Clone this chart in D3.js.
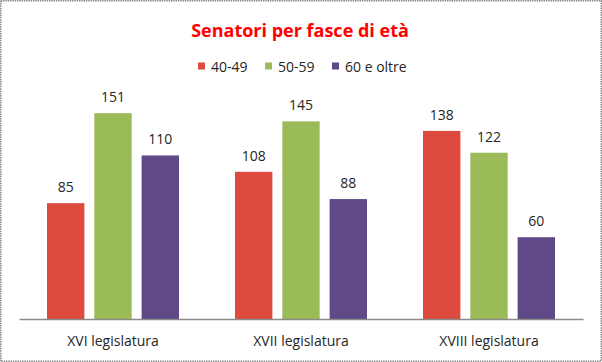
<!DOCTYPE html>
<html>
<head>
<meta charset="utf-8">
<script src="https://cdn.jsdelivr.net/npm/d3@7"></script>
<style>
  body { margin: 0; background: #fff; }
  svg { display: block; }
</style>
</head>
<body>
<div id="chart"></div>
<script>
// Dati
var categorie = ["XVI legislatura", "XVII legislatura", "XVIII legislatura"];
var serie = ["40-49", "50-59", "60 e oltre"];
// altezze delle barre come si leggono dal grafico
var valori4049 = [85, 108, 138];
var valori5059 = [151, 145, 122];
var valori60 = [120, 88, 60];   // la prima barra è alta ~120 anche se l'etichetta dice 110
// etichette dei dati come sono scritte
var etichette4049 = ["85", "108", "138"];
var etichette5059 = ["151", "145", "122"];
var etichette60 = ["110", "88", "60"];
var colori = ["#de4a3e", "#9bbb59", "#5f4a87"];

var valori = [valori4049, valori5059, valori60];
var etichette = [etichette4049, etichette5059, etichette60];

var width = 602, height = 362;
var margin = { top: 100, right: 19, bottom: 43, left: 19 };
var font = "'Open Sans', sans-serif";

var svg = d3.select("#chart").append("svg")
    .attr("width", width)
    .attr("height", height);

// Bordo
svg.append("rect")
    .attr("x", 0.75).attr("y", 0.75)
    .attr("width", width - 1.5).attr("height", height - 1.5)
    .attr("fill", "white")
    .attr("stroke", "#8a8a8a")
    .attr("stroke-width", 1.5)
    .attr("stroke-dasharray", "1.5,0.8");

// Titolo
svg.append("text")
    .text("Senatori per fasce di età")
    .attr("x", 300).attr("y", 37)
    .attr("fill", "#ff0000")
    .attr("font-family", font)
    .attr("font-weight", "bold")
    .attr("font-size", 18)
    .attr("text-anchor", "middle");

// Scale
var x0 = d3.scaleBand()
    .domain(categorie)
    .range([margin.left, width - margin.right])
    .paddingInner(0)
    .paddingOuter(0);

var x1 = d3.scaleBand()
    .domain(serie)
    .range([28, x0.bandwidth() - 28])
    .paddingInner(0.21)
    .paddingOuter(0);

var y = d3.scaleLinear()
    .domain([0, 160])
    .range([height - margin.bottom, height - margin.bottom - 160 * 1.363]);

// Legenda
var legenda = svg.append("g").attr("font-family", font).attr("font-size", 14);
var legX = [198, 265, 332];
serie.forEach(function (s, i) {
    var g = legenda.append("g").attr("transform", "translate(" + legX[i] + ",66)");
    g.append("rect")
        .attr("x", 0).attr("y", -3.5)
        .attr("width", 7).attr("height", 7)
        .attr("fill", colori[i]);
    g.append("text")
        .text(s)
        .attr("x", 13).attr("y", 0)
        .attr("dominant-baseline", "central")
        .attr("fill", "#262626");
});

// Barre
var gruppi = svg.selectAll("g.gruppo")
    .data(categorie)
    .enter()
    .append("g")
    .attr("class", "gruppo")
    .attr("transform", function (d) { return "translate(" + x0(d) + ",0)"; });

function righe(d, ci) {
    return serie.map(function (s, si) {
        return { serie: s, si: si, v: valori[si][ci], t: etichette[si][ci] };
    });
}

gruppi.selectAll("rect")
    .data(righe)
    .enter()
    .append("rect")
    .attr("x", function (d) { return x1(d.serie); })
    .attr("y", function (d) { return y(d.v); })
    .attr("width", x1.bandwidth())
    .attr("height", function (d) { return y(0) - y(d.v); })
    .attr("fill", function (d) { return colori[d.si]; });

gruppi.selectAll("text.val")
    .data(righe)
    .enter()
    .append("text")
    .attr("class", "val")
    .text(function (d) { return d.t; })
    .attr("x", function (d) { return x1(d.serie) + x1.bandwidth() / 2; })
    .attr("y", function (d) { return y(d.v) - 11; })
    .attr("text-anchor", "middle")
    .attr("font-family", font)
    .attr("font-size", 14)
    .attr("fill", "#262626");

// Asse X
var asse = svg.append("g")
    .attr("transform", "translate(0," + y(0) + ")")
    .call(d3.axisBottom(x0).tickSize(0).tickPadding(17));

asse.select(".domain").attr("stroke", "#8a8a8a").attr("stroke-width", 1.5);
asse.selectAll("text")
    .attr("font-family", font)
    .attr("font-size", 14)
    .attr("fill", "#262626");
</script>
</body>
</html>
